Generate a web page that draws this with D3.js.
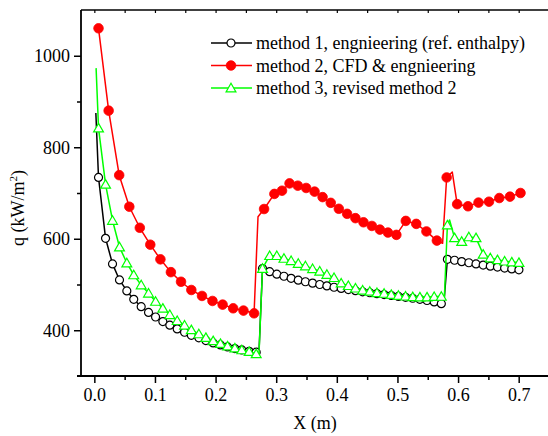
<!DOCTYPE html>
<html>
<head>
<meta charset="utf-8">
<script src="https://cdn.jsdelivr.net/npm/d3@7"></script>
<style>
  html, body { margin: 0; padding: 0; background: #fff; }
  svg { display: block; }
</style>
</head>
<body>
<svg id="chart" width="548" height="436"></svg>
<script>
// ---------------- data ----------------
// method 1: engineering (ref. enthalpy)
const m1X = [0.0025, 0.0069, 0.0185, 0.030, 0.0415, 0.0536, 0.065, 0.0773, 0.0894, 0.101, 0.113, 0.1245, 0.1367, 0.1488, 0.160, 0.1724, 0.184, 0.196, 0.208, 0.2197, 0.2318, 0.2433, 0.2554, 0.267,
  0.2716, 0.2774, 0.2892, 0.301, 0.3128, 0.3246, 0.3364, 0.3482, 0.360, 0.3718, 0.3836, 0.3954, 0.4072, 0.419, 0.4308, 0.4426, 0.4544, 0.4662, 0.478, 0.4898, 0.5016, 0.5134, 0.5252, 0.537, 0.5488, 0.5606, 0.5724,
  0.5765, 0.5824, 0.5942, 0.606, 0.6178, 0.6296, 0.6414, 0.6532, 0.665, 0.6768, 0.6886, 0.7004];
const m1Q = [875, 734, 601, 545, 510, 486, 467.5, 451.5, 439, 429, 419, 411, 403, 395.6, 389, 383.5, 377.5, 372.3, 368, 363.5, 360, 357, 354, 352,
  352, 535, 528, 522.5, 518, 513.5, 509.5, 506, 503, 500, 497, 494, 491.5, 489, 486.5, 484, 482, 480, 478, 476, 474, 472, 470, 467.5, 465, 462, 458,
  458, 555, 553, 550, 547.5, 545, 542.5, 540, 538, 536, 534, 532];
const m1LineOnly = [0.0025, 0.2716, 0.5765];

// method 2: CFD & engineering
const m2X = [0.0069, 0.0236, 0.041, 0.0577, 0.075, 0.0923, 0.109, 0.1263, 0.143, 0.160, 0.1776, 0.1949, 0.2116, 0.229, 0.246, 0.2635,
  0.270, 0.280, 0.297, 0.3096, 0.322, 0.3356, 0.3494, 0.3633, 0.3765, 0.390, 0.4033, 0.417, 0.4307, 0.444, 0.4578, 0.471, 0.4843, 0.4982, 0.5138, 0.531, 0.5478, 0.565,
  0.5745, 0.5812, 0.5904, 0.5985, 0.6164, 0.6337, 0.651, 0.668, 0.6856, 0.703];
const m2Q = [1060, 880, 739, 670, 624, 587, 555, 527, 506, 488, 475, 464, 456, 448, 443, 437,
  648, 665, 698, 705, 721, 716, 711, 703, 691, 678.5, 665.5, 654.5, 645, 636, 628, 620, 613.5, 608.5, 639, 632.5, 616, 596,
  590, 734, 746, 675.6, 671, 679, 681, 689, 692, 700];
const m2LineOnly = [0.270, 0.5745, 0.5904];

// method 3: revised method 2
const m3X = [0.0029, 0.0069, 0.0185, 0.030, 0.0415, 0.0536, 0.065, 0.0773, 0.0894, 0.101, 0.113, 0.1245, 0.1367, 0.1488, 0.160, 0.1724, 0.184, 0.196, 0.208, 0.2197, 0.2318, 0.2433, 0.2554, 0.267,
  0.2716, 0.2774, 0.2892, 0.301, 0.3128, 0.3246, 0.3364, 0.3482, 0.360, 0.3718, 0.3836, 0.3954, 0.4072, 0.419, 0.4308, 0.4426, 0.4544, 0.4662, 0.478, 0.4898, 0.5016, 0.5134, 0.5252, 0.537, 0.5488, 0.5606, 0.5724,
  0.5775, 0.5824, 0.586, 0.5942, 0.606, 0.6178, 0.6296, 0.6414, 0.6532, 0.665, 0.6768, 0.6886, 0.7004];
const m3Q = [973, 842, 719, 640, 582, 547, 521, 499, 481, 463, 448, 434, 421, 411, 401, 392, 384, 377, 371, 365.5, 361, 357, 353.5, 348.5,
  348, 535, 563, 563, 557, 552, 546, 540.5, 534.5, 529, 522, 515, 503, 497.5, 492, 487.5, 485, 482, 480.5, 478, 476, 474.5, 473, 472.5, 472.5, 473.5, 474,
  474, 630, 641, 602, 594, 604, 602, 566, 558, 554, 551, 549, 548];
const m3LineOnly = [0.0029, 0.2716, 0.5775, 0.586];

const seriesNames = ["method 1, engnieering (ref. enthalpy)", "method 2, CFD & engnieering", "method 3, revised method 2"];
const seriesColors = ["#000000", "#ff0000", "#00ff00"];

const xTicksMajor = [0, 0.1, 0.2, 0.3, 0.4, 0.5, 0.6, 0.7];
const xTicksMinor = [0.05, 0.15, 0.25, 0.35, 0.45, 0.55, 0.65];
const yTicksMajor = [400, 600, 800, 1000];
const yTicksMinor = [500, 700, 900];

// ---------------- drawing ----------------
(function () {
const svg = d3.select("#chart");
const W = 548;
const pL = 81, pR = 549, pT = 10, pB = 376;
const SERIF = '"Liberation Serif"';

const x = d3.scaleLinear().domain([-0.022, 0.75]).range([pL, pR]);
const y = d3.scaleLinear().domain([300, 1100]).range([pB, pT]);

const FS = 18;

// frame lines
const axisG = svg.append("g");
axisG.append("line").attr("x1", pL).attr("x2", pL).attr("y1", pT).attr("y2", pB)
  .attr("stroke", "#000").attr("stroke-width", 1.8);
axisG.append("line").attr("x1", pL - 4).attr("x2", W).attr("y1", pB).attr("y2", pB)
  .attr("stroke", "#000").attr("stroke-width", 1.8);
axisG.append("line").attr("x1", pL).attr("x2", W).attr("y1", pT).attr("y2", pT)
  .attr("stroke", "#000").attr("stroke-width", 1.5);

// bottom axis
const xAxis = d3.axisBottom(x).tickValues(xTicksMajor).tickSize(7).tickPadding(5).tickFormat(d3.format(".1f"));
const gx = svg.append("g").attr("transform", `translate(0,${pB})`).call(xAxis);
gx.select(".domain").remove();
gx.selectAll(".tick line").attr("stroke-width", 1.5);
gx.selectAll(".tick text").style("font-size", FS + "px").style("font-family", SERIF);
const xAxisMinor = d3.axisBottom(x).tickValues(xTicksMinor).tickSize(4).tickFormat("");
const gxm = svg.append("g").attr("transform", `translate(0,${pB})`).call(xAxisMinor);
gxm.select(".domain").remove();
gxm.selectAll(".tick line").attr("stroke-width", 1.5);

// top axis (inward ticks)
const xTop = d3.axisBottom(x).tickValues(xTicksMajor.concat(xTicksMinor)).tickSize(3).tickFormat("");
const gt = svg.append("g").attr("transform", `translate(0,${pT})`).call(xTop);
gt.select(".domain").remove();
gt.selectAll(".tick line").attr("stroke-width", 1.2);

// left axis
const yAxis = d3.axisLeft(y).tickValues(yTicksMajor).tickSize(7).tickPadding(4).tickFormat(d3.format("d"));
const gy = svg.append("g").attr("transform", `translate(${pL},0)`).call(yAxis);
gy.select(".domain").remove();
gy.selectAll(".tick line").attr("stroke-width", 1.5);
gy.selectAll(".tick text").style("font-size", FS + "px").style("font-family", SERIF);
const yAxisMinor = d3.axisLeft(y).tickValues(yTicksMinor).tickSize(4).tickFormat("");
const gym = svg.append("g").attr("transform", `translate(${pL},0)`).call(yAxisMinor);
gym.select(".domain").remove();
gym.selectAll(".tick line").attr("stroke-width", 1.5);

// axis titles
svg.append("text").attr("x", 315).attr("y", 429).attr("text-anchor", "middle")
  .style("font-size", FS + "px").style("font-family", SERIF).text("X (m)");
const yt = svg.append("text").attr("transform", "translate(24,208) rotate(-90)")
  .attr("text-anchor", "middle").style("font-size", FS + "px").style("font-family", SERIF);
yt.append("tspan").text("q (kW/m");
yt.append("tspan").style("font-size", "11px").attr("dy", -7).text("2");
yt.append("tspan").attr("dy", 7).text(")");

// series
function build(xs, qs, lineOnly) {
  return xs.map((v, i) => ({ x: v, q: qs[i], marked: !lineOnly.includes(v) }));
}
const series = [
  build(m1X, m1Q, m1LineOnly),
  build(m2X, m2Q, m2LineOnly),
  build(m3X, m3Q, m3LineOnly)
];

const line = d3.line().x(d => x(d.x)).y(d => y(d.q));
const tri = d3.symbol().type(d3.symbolTriangle).size(42);

function drawMarker(sel, k) {
  if (k === 0) {
    sel.append("circle").attr("r", 4).attr("fill", "#fff").attr("stroke", "#000").attr("stroke-width", 1.2);
  } else if (k === 1) {
    sel.append("circle").attr("r", 4.8).attr("fill", "#ff0000").attr("stroke", "#ff0000").attr("stroke-width", 0.8);
  } else {
    sel.append("path").attr("d", tri).attr("transform", "translate(0,1)")
      .attr("fill", "#fff").attr("stroke", "#00ff00").attr("stroke-width", 1.2);
  }
}

series.forEach((data, k) => {
  const g = svg.append("g");
  g.append("path").datum(data).attr("d", line).attr("fill", "none")
    .attr("stroke", seriesColors[k]).attr("stroke-width", 1.5).attr("stroke-linejoin", "round");
  g.selectAll("g.mk").data(data.filter(d => d.marked)).join("g")
    .attr("class", "mk")
    .attr("transform", d => `translate(${x(d.x)},${y(d.q)})`)
    .each(function () { drawMarker(d3.select(this), k); });
});

// legend
const legY = [43, 65.5, 88];
seriesNames.forEach((name, k) => {
  const g = svg.append("g").attr("transform", `translate(0,${legY[k]})`);
  g.append("line").attr("x1", 211).attr("x2", 252).attr("y1", 0).attr("y2", 0)
    .attr("stroke", seriesColors[k]).attr("stroke-width", 1.5);
  const m = g.append("g").attr("transform", "translate(231,0)");
  drawMarker(m, k);
  g.append("text").attr("x", 256).attr("y", 6).style("font-size", "18px").style("font-family", SERIF).text(name);
});
})();
</script>
</body>
</html>
